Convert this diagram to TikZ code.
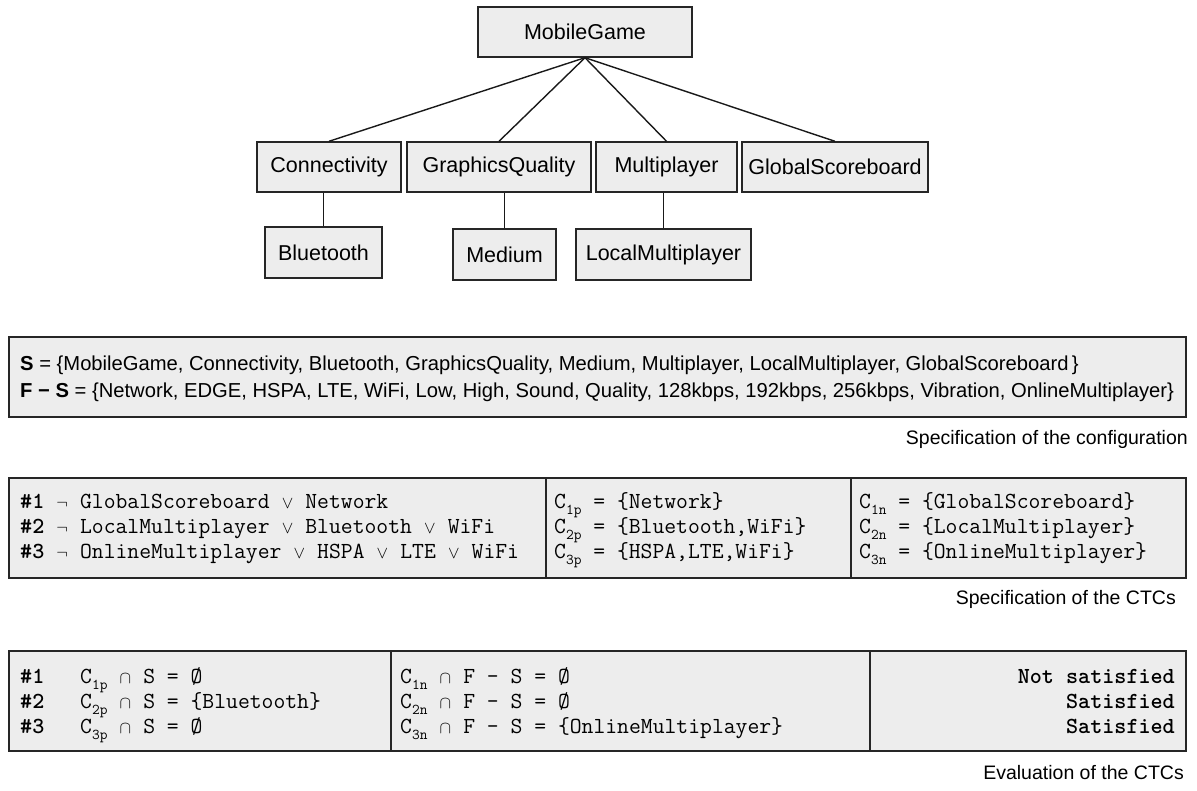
\documentclass[tikz,border=0pt]{standalone}
\usepackage{fontspec}
\setmainfont{Liberation Sans}
\newcommand\sbs[1]{\raisebox{-0.3em}{\fontsize{15}{15}\selectfont #1}}
\newcommand\orr{\makebox[0.525em]{\fontsize{17}{17}\selectfont$\vee$}}
\newcommand\ntt{\makebox[0.525em]{\fontsize{19}{19}\selectfont$\neg$}}
\newcommand\cpp{\makebox[0.525em]{\fontsize{19}{19}\selectfont$\cap$}}
\begin{document}
\begin{tikzpicture}[x=1pt,y=-1pt,
  tbox/.style={draw=black!85, line width=1.4pt, fill=black!7, inner sep=0pt,
    font=\fontsize{21.5}{24}\selectfont},
  edge/.style={draw=black!90, line width=1.4pt},
  panel/.style={draw=black!85, line width=1.4pt, fill=black!7},
  divl/.style={draw=black!85, line width=1.2pt},
  stxt/.style={anchor=base west, inner sep=0pt, font=\fontsize{20.2}{22}\selectfont},
  mtxt/.style={anchor=base west, inner sep=0pt, font=\fontsize{23}{24}\selectfont\ttfamily},
  mtxtr/.style={anchor=base east, inner sep=0pt, font=\fontsize{23}{24}\selectfont\ttfamily\bfseries},
  captxt/.style={anchor=base east, inner sep=0pt, font=\fontsize{19.5}{23}\selectfont}]
\useasboundingbox (0,0) rectangle (1197,791);
% ---- feature tree ----
\node[tbox, minimum width=214pt, minimum height=50pt] (mg) at (585,32) {MobileGame};
\node[tbox, minimum width=144pt, minimum height=50pt] (con) at (329,167) {Connectivity};
\node[tbox, minimum width=184pt, minimum height=50pt] (gq) at (499,167) {GraphicsQuality};
\node[tbox, minimum width=141pt, minimum height=50pt] (mp) at (666.5,167) {Multiplayer};
\node[tbox, minimum width=186pt, minimum height=50pt] (gs) at (835,167) {GlobalScoreboard};
\node[tbox, minimum width=117pt, minimum height=51pt] (bt) at (323.5,252.5) {Bluetooth};
\node[tbox, minimum width=103pt, minimum height=51pt] (med) at (504.5,254.5) {Medium};
\node[tbox, minimum width=175pt, minimum height=51pt] (lm) at (663.5,254.5) {LocalMultiplayer};
\draw[edge] (mg.south) -- (con.north);
\draw[edge] (mg.south) -- (gq.north);
\draw[edge] (mg.south) -- (mp.north);
\draw[edge] (mg.south) -- (gs.north);
\draw[edge] (bt.north) -- (bt.north |- con.south);
\draw[edge] (med.north) -- (med.north |- gq.south);
\draw[edge] (lm.north) -- (lm.north |- mp.south);
% ---- configuration ----
\draw[panel] (9,337) rectangle (1186,417);
\node[stxt] (s1) at (20,371) {\textbf{S} = \{MobileGame, Connectivity, Bluetooth, GraphicsQuality, Medium, Multiplayer, LocalMultiplayer, GlobalScoreboard\,\}};
\node[stxt] (s2) at (20,398) {\textbf{F − S} = \{Network, EDGE, HSPA, LTE, WiFi, Low, High, Sound, Quality, 128kbps, 192kbps, 256kbps, Vibration, OnlineMultiplayer\}};
\node[captxt] (c1) at (1188,444) {Specification of the configuration};
% ---- CTCs ----
\draw[panel] (9,478) rectangle (1186,578);
\draw[divl] (546,478) -- (546,578);
\draw[divl] (851,478) -- (851,578);
\node[mtxt] (r1a) at (20,508) {\textbf{\#1} \ntt{} GlobalScoreboard \orr{} Network};
\node[mtxt] (r2a) at (20,533) {\textbf{\#2} \ntt{} LocalMultiplayer \orr{} Bluetooth \orr{} WiFi};
\node[mtxt] (r3a) at (20,558) {\textbf{\#3} \ntt{} OnlineMultiplayer \orr{} HSPA \orr{} LTE \orr{} WiFi};
\node[mtxt] (r1b) at (554,508) {C\sbs{1p} = \{Network\}};
\node[mtxt] (r2b) at (554,533) {C\sbs{2p} = \{Bluetooth,WiFi\}};
\node[mtxt] (r3b) at (554,558) {C\sbs{3p} = \{HSPA,LTE,WiFi\}};
\node[mtxt] (r1c) at (859,508) {C\sbs{1n} = \{GlobalScoreboard\}};
\node[mtxt] (r2c) at (859,533) {C\sbs{2n} = \{LocalMultiplayer\}};
\node[mtxt] (r3c) at (859,558) {C\sbs{3n} = \{OnlineMultiplayer\}};
\node[captxt] (c2) at (1176,604) {Specification of the CTCs};
% ---- evaluation ----
\draw[panel] (9,651) rectangle (1186,751);
\draw[divl] (391,651) -- (391,751);
\draw[divl] (870,651) -- (870,751);
\node[mtxt] (e1a) at (20,683) {\textbf{\#1}};
\node[mtxt] (e2a) at (20,708) {\textbf{\#2}};
\node[mtxt] (e3a) at (20,733) {\textbf{\#3}};
\node[mtxt] (e1b) at (80,683) {C\sbs{1p} \cpp{} S = Ø};
\node[mtxt] (e2b) at (80,708) {C\sbs{2p} \cpp{} S = \{Bluetooth\}};
\node[mtxt] (e3b) at (80,733) {C\sbs{3p} \cpp{} S = Ø};
\node[mtxt] (e1c) at (400,683) {C\sbs{1n} \cpp{} F – S = Ø};
\node[mtxt] (e2c) at (400,708) {C\sbs{2n} \cpp{} F – S = Ø};
\node[mtxt] (e3c) at (400,733) {C\sbs{3n} \cpp{} F – S = \{OnlineMultiplayer\}};
\node[mtxtr] (e1d) at (1175,683) {Not satisfied};
\node[mtxtr] (e2d) at (1175,708) {Satisfied};
\node[mtxtr] (e3d) at (1175,733) {Satisfied};
\node[captxt] (c3) at (1184,779) {Evaluation of the CTCs};
\end{tikzpicture}
\end{document}
